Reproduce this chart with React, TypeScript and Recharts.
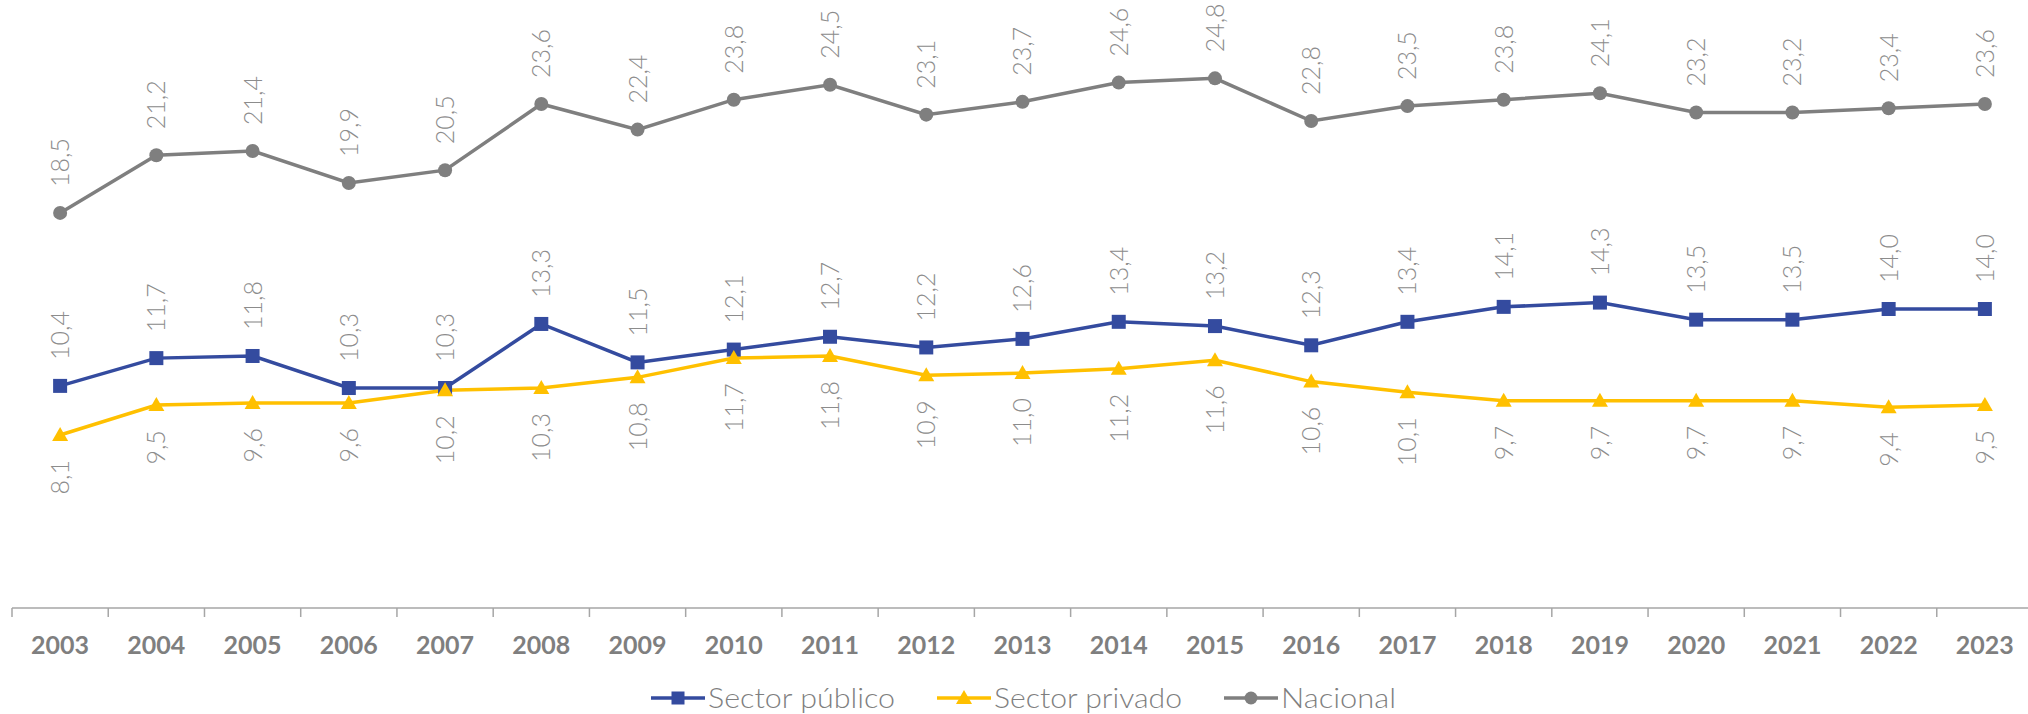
import React from 'react';
import { LineChart, Line, XAxis, YAxis, Legend, LabelList } from 'recharts';

const years = ['2003', '2004', '2005', '2006', '2007', '2008', '2009', '2010', '2011', '2012', '2013', '2014', '2015', '2016', '2017', '2018', '2019', '2020', '2021', '2022', '2023'];
const publico = [10.4, 11.7, 11.8, 10.3, 10.3, 13.3, 11.5, 12.1, 12.7, 12.2, 12.6, 13.4, 13.2, 12.3, 13.4, 14.1, 14.3, 13.5, 13.5, 14.0, 14.0];
const privado = [8.1, 9.5, 9.6, 9.6, 10.2, 10.3, 10.8, 11.7, 11.8, 10.9, 11.0, 11.2, 11.6, 10.6, 10.1, 9.7, 9.7, 9.7, 9.7, 9.4, 9.5];
const nacional = [18.5, 21.2, 21.4, 19.9, 20.5, 23.6, 22.4, 23.8, 24.5, 23.1, 23.7, 24.6, 24.8, 22.8, 23.5, 23.8, 24.1, 23.2, 23.2, 23.4, 23.6];
const seriesNames = ['Sector público', 'Sector privado', 'Nacional'];

const data = years.map((y, i) => ({ year: y, publico: publico[i], privado: privado[i], nacional: nacional[i] }));

const W = 2028;
const CW = 2033;
const H = 714;
const MARGIN = { top: 10, right: 0, left: 12, bottom: 0 };
const BAND = (CW - MARGIN.left - MARGIN.right) / years.length;

const BLUE = '#344B9F';
const YELLOW = '#FFC000';
const GRAY = '#7F7F7F';
const LABEL = '#8C8C8C';
const AXIS = '#A6A6A6';
const FONT = 'Lato, "Open Sans", "DejaVu Sans", sans-serif';

const fmt = (v: number) => Number(v).toFixed(1).replace('.', ',');

const makeLabel = (pos: 'above' | 'below') => (props: any) => {
  const x = props.x ?? props.viewBox?.x;
  const y = props.y ?? props.viewBox?.y;
  if (x == null || y == null) return null;
  const ay = pos === 'above' ? y - 26 : y + 25;
  return (
    <text
      x={x}
      y={ay}
      dy="0.36em"
      transform={`rotate(-90, ${x}, ${ay})`}
      textAnchor={pos === 'above' ? 'start' : 'end'}
      fill={LABEL}
      fontSize={25}
      fontFamily={FONT}
      fontWeight={300}
    >
      {fmt(props.value)}
    </text>
  );
};

const SquareDot = (p: any) => {
  if (p.cx == null || p.cy == null) return <g key={p.index} />;
  return <rect key={p.index} x={p.cx - 7} y={p.cy - 7} width={14} height={14} fill={BLUE} />;
};
const TriangleDot = (p: any) => {
  if (p.cx == null || p.cy == null) return <g key={p.index} />;
  const { cx, cy } = p;
  return <polygon key={p.index} points={`${cx},${cy - 8} ${cx + 8},${cy + 6} ${cx - 8},${cy + 6}`} fill={YELLOW} />;
};
const CircleDot = (p: any) => {
  if (p.cx == null || p.cy == null) return <g key={p.index} />;
  return <circle key={p.index} cx={p.cx} cy={p.cy} r={7} fill={GRAY} />;
};

const Tick = (p: any) => {
  const { x, y, payload, index, visibleTicksCount } = p;
  const half = BAND / 2;
  return (
    <g>
      <line x1={x - half} x2={x - half} y1={y} y2={y + 9} stroke={AXIS} strokeWidth={1.5} />
      {index === visibleTicksCount - 1 && (
        <line x1={x + half} x2={x + half} y1={y} y2={y + 9} stroke={AXIS} strokeWidth={1.5} />
      )}
      <text x={x} y={y + 37} dy="0.36em" textAnchor="middle" fill={GRAY} fontSize={25} fontWeight={700} fontFamily={FONT}>
        {payload.value}
      </text>
    </g>
  );
};

const legendStyles = [
  { color: BLUE, shape: 'square', tw: 187 },
  { color: YELLOW, shape: 'triangle', tw: 188 },
  { color: GRAY, shape: 'circle', tw: 115 },
];

const LegendContent = () => {
  let cur = 651;
  const cy = 12;
  const items = seriesNames.map((name, i) => {
    const s = legendStyles[i];
    const x0 = cur;
    cur += 54 + 3 + s.tw + 42;
    const cx = x0 + 27;
    let marker;
    if (s.shape === 'square') marker = <rect x={cx - 6.5} y={cy - 6.5} width={13} height={13} fill={s.color} />;
    else if (s.shape === 'triangle') marker = <polygon points={`${cx},${cy - 8} ${cx + 8},${cy + 6} ${cx - 8},${cy + 6}`} fill={s.color} />;
    else marker = <circle cx={cx} cy={cy} r={6.5} fill={s.color} />;
    return (
      <g key={name}>
        <line x1={x0} x2={x0 + 54} y1={cy} y2={cy} stroke={s.color} strokeWidth={3.5} />
        {marker}
        <text x={x0 + 57} y={22} fill={GRAY} fontSize={28} fontFamily={FONT} fontWeight={300} textLength={s.tw} lengthAdjust="spacingAndGlyphs">
          {name}
        </text>
      </g>
    );
  });
  return (
    <div style={{ height: 28, width: W, position: 'relative' }}>
      <svg width={W} height={40} style={{ position: 'absolute', left: 0, top: 0, overflow: 'visible' }}>
        {items}
      </svg>
    </div>
  );
};

export default function App() {
  return (
    <div style={{ position: 'absolute', left: 0, top: 0, width: W, height: H, background: '#fff', overflow: 'hidden' }}>
      <LineChart width={CW} height={H} data={data} margin={MARGIN}>
        <XAxis
          dataKey="year"
          scale="band"
          interval={0}
          height={78}
          tickLine={false}
          tickSize={0}
          tickMargin={0}
          axisLine={{ stroke: AXIS, strokeWidth: 1.5 }}
          tick={<Tick />}
        />
        <YAxis hide domain={[0, 28]} type="number" allowDataOverflow />
        <Legend
          verticalAlign="bottom"
          content={<LegendContent />}
          wrapperStyle={{ left: 0, width: W, height: 28 }}
        />
        <Line
          name={seriesNames[0]}
          dataKey="publico"
          stroke={BLUE}
          strokeWidth={3.5}
          dot={SquareDot}
          activeDot={false}
          isAnimationActive={false}
        >
          <LabelList dataKey="publico" content={makeLabel('above')} />
        </Line>
        <Line
          name={seriesNames[1]}
          dataKey="privado"
          stroke={YELLOW}
          strokeWidth={3.5}
          dot={TriangleDot}
          activeDot={false}
          isAnimationActive={false}
        >
          <LabelList dataKey="privado" content={makeLabel('below')} />
        </Line>
        <Line
          name={seriesNames[2]}
          dataKey="nacional"
          stroke={GRAY}
          strokeWidth={3.5}
          dot={CircleDot}
          activeDot={false}
          isAnimationActive={false}
        >
          <LabelList dataKey="nacional" content={makeLabel('above')} />
        </Line>
      </LineChart>
    </div>
  );
}
